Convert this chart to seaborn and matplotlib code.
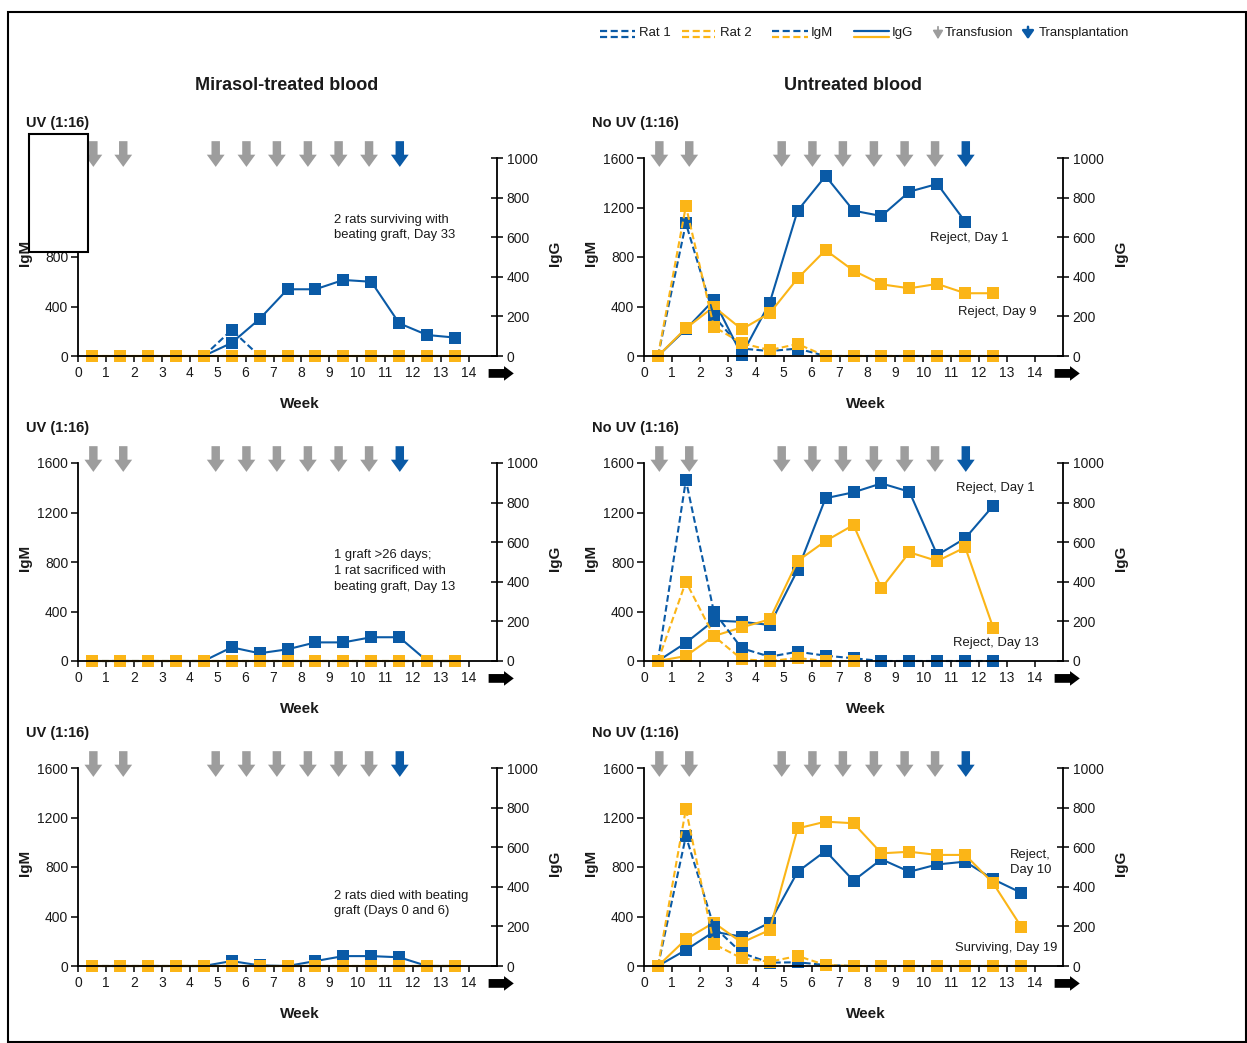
import numpy as np
import pandas as pd
import matplotlib
matplotlib.use("Agg")
import matplotlib.pyplot as plt
import seaborn as sns
from matplotlib.patches import Rectangle
from matplotlib.lines import Line2D

sns.set_theme(style="white")
plt.rcParams["font.family"] = ["Liberation Sans Narrow", "Liberation Sans", "DejaVu Sans"]

# ---------------- data ----------------
WEEKS = [0.5, 1.5, 2.5, 3.5, 4.5, 5.5, 6.5, 7.5, 8.5, 9.5, 10.5, 11.5, 12.5, 13.5]
TRANSFUSION_WEEKS = [0.55, 1.62, 4.93, 6.03, 7.12, 8.23, 9.33, 10.42]
TRANSPLANT_WEEK = 11.52
X_TICKS = list(range(0, 15))
IGM_TICKS = [0, 400, 800, 1200, 1600]
IGG_TICKS = [0, 200, 400, 600, 800, 1000]

N = None
# Mirasol-treated, panel 1
A_IGM_RAT1 = [N, N, N, N, 0, 210, 0]
A_IGM_RAT2 = [0] * 14
A_IGG_RAT1 = [N, N, N, N, 0, 66, 187, 337, 337, 384, 375, 165, 106, 93]
A_IGG_RAT2 = [0] * 14
# Mirasol-treated, panel 2
B_IGM_RAT1 = [0] * 14
B_IGM_RAT2 = [0] * 14
B_IGG_RAT1 = [0, 0, 0, 0, 0, 69, 39, 59, 94, 94, 120, 120, 0, 0]
B_IGG_RAT2 = [0] * 14
# Mirasol-treated, panel 3
C_IGM_RAT1 = [0] * 14
C_IGM_RAT2 = [0] * 14
C_IGG_RAT1 = [0, 0, 0, 0, 0, 25, 3, 0, 25, 50, 50, 44, 0, 0]
C_IGG_RAT2 = [0] * 14
# Untreated, panel 1
D_IGM_RAT1 = [0, 1072, 323, 60, 40, 60, 0, 0, 0, 0, 0, 0]
D_IGM_RAT2 = [0, 1212, 237, 103, 48, 97, 0, 0, 0, 0, 0, 0, 0]
D_IGG_RAT1 = [0, 135, 283, 5, 269, 734, 909, 734, 707, 830, 869, 678]
D_IGG_RAT2 = [0, 140, 249, 135, 216, 392, 535, 431, 362, 342, 364, 317, 317]
# Untreated, panel 2
E_IGM_RAT1 = [0, 1462, 398, 103, 35, 75, 43, 22, 0, 0, 0, 0, 0]
E_IGM_RAT2 = [0, 641, 202, 14, 0, 24, 0, 0]
E_IGG_RAT1 = [0, 92, 204, 198, 182, 460, 822, 852, 897, 855, 535, 620, 784]
E_IGG_RAT2 = [0, 25, 126, 170, 210, 505, 606, 687, 367, 549, 505, 574, 168]
# Untreated, panel 3
F_IGM_RAT1 = [0, 1050, 318, 105, 27, 30, 8, 0, 0, 0, 0, 0, 0, 0]
F_IGM_RAT2 = [0, 1269, 178, 62, 35, 81, 8, 0, 0, 0, 0, 0, 0, 0]
F_IGG_RAT1 = [0, 81, 173, 148, 219, 476, 581, 431, 539, 476, 513, 527, 438, 370]
F_IGG_RAT2 = [0, 135, 219, 118, 182, 695, 729, 721, 569, 577, 561, 561, 418, 199]

BLUE = "#0a5aa6"
ORANGE = "#fbb517"
GRAY = "#9d9d9d"
TXT = "#1a1a1a"

W, H = 1247, 1043
fig = plt.figure(figsize=(W / 100, H / 100), dpi=100)
fig.patch.set_facecolor("white")


def fx(px):
    return px / W


def fy(py):
    return 1 - py / H


def series(ax, vals, color, dashed):
    df = pd.DataFrame({"week": WEEKS[: len(vals)], "value": vals}).dropna()
    ls = (0, (3.2, 1.6)) if dashed else "-"
    sns.lineplot(data=df, x="week", y="value", ax=ax, color=color, linestyle=ls,
                 linewidth=1.5, marker="s", markersize=8.5, markeredgewidth=0,
                 clip_on=False, legend=False, errorbar=None)


def panel(left_px, bottom_px, label, igm1, igm2, igg1, igg2, notes):
    ax = fig.add_axes([fx(left_px), fy(bottom_px), fx(419), 198 / H])
    ax2 = ax.twinx()
    ax.set_zorder(ax2.get_zorder() + 1)
    ax.patch.set_visible(False)

    series(ax2, igg1, BLUE, False)
    series(ax2, igg2, ORANGE, False)
    series(ax, igm1, BLUE, True)
    series(ax, igm2, ORANGE, True)

    ax.set_xlim(0, 15)
    ax.set_ylim(0, 1600)
    ax2.set_ylim(0, 1000)
    ax.set_xticks(X_TICKS)
    ax.set_yticks(IGM_TICKS)
    ax2.set_yticks(IGG_TICKS)
    for s in ["top", "right"]:
        ax.spines[s].set_visible(False)
    for s in ["top", "left", "bottom"]:
        ax2.spines[s].set_visible(False)
    for sp in [ax.spines["left"], ax.spines["bottom"], ax2.spines["right"]]:
        sp.set_color("black")
        sp.set_linewidth(1.3)
    ax.tick_params(axis="x", direction="out", length=4, width=1.1, colors="black",
                   labelcolor=TXT, labelsize=10, pad=3, bottom=True)
    ax.tick_params(axis="y", direction="out", length=5, width=1.1, colors="black",
                   labelcolor=TXT, labelsize=10, pad=2, left=True)
    ax2.tick_params(axis="y", direction="inout", length=8, width=1.1, colors="black",
                    labelcolor=TXT, labelsize=10, pad=3, right=True)

    ax.set_xlabel("Week", fontsize=11, fontweight="bold", color=TXT)
    ax.xaxis.set_label_coords(0.53, -0.205)
    ax.set_ylabel("IgM", fontsize=11, fontweight="bold", color=TXT)
    ax.yaxis.set_label_coords(-0.11, 0.52)
    ax2.set_ylabel("IgG", fontsize=11, fontweight="bold", color=TXT, rotation=90)
    ax2.yaxis.set_label_coords(1.122, 0.52)

    ax.text(-0.125, 1.175, label, transform=ax.transAxes, fontsize=10.5,
            fontweight="bold", color=TXT, ha="left", va="center")

    # transfusion / transplantation arrows
    for wk in TRANSFUSION_WEEKS:
        ax.annotate("", xy=(wk, 0.955), xytext=(wk, 1.085),
                    xycoords=("data", "axes fraction"), textcoords=("data", "axes fraction"),
                    arrowprops=dict(arrowstyle="simple,head_length=0.55,head_width=0.8,tail_width=0.38",
                                    mutation_scale=16, color=GRAY, shrinkA=0, shrinkB=0, lw=0),
                    annotation_clip=False)
    ax.annotate("", xy=(TRANSPLANT_WEEK, 0.955), xytext=(TRANSPLANT_WEEK, 1.085),
                xycoords=("data", "axes fraction"), textcoords=("data", "axes fraction"),
                arrowprops=dict(arrowstyle="simple,head_length=0.55,head_width=0.8,tail_width=0.38",
                                mutation_scale=16, color=BLUE, shrinkA=0, shrinkB=0, lw=0),
                annotation_clip=False)
    # black arrow after the week axis
    ax.annotate("", xy=(1.04, -0.088), xytext=(0.98, -0.088), xycoords="axes fraction",
                arrowprops=dict(arrowstyle="simple,head_length=0.5,head_width=0.75,tail_width=0.45",
                                mutation_scale=14, color="black", shrinkA=0, shrinkB=0, lw=0),
                annotation_clip=False)

    for (tx, ty, s) in notes:
        ax.text(tx, ty, s, transform=ax.transAxes, fontsize=9.4, color=TXT,
                ha="left", va="center", linespacing=1.4)
    return ax


LX, RX = 78, 644
ROWS = [356, 661, 966]

panel(LX, ROWS[0], "UV (1:16)", A_IGM_RAT1, A_IGM_RAT2, A_IGG_RAT1, A_IGG_RAT2,
      [(0.61, 0.65, "2 rats surviving with\nbeating graft, Day 33")])
panel(LX, ROWS[1], "UV (1:16)", B_IGM_RAT1, B_IGM_RAT2, B_IGG_RAT1, B_IGG_RAT2,
      [(0.61, 0.455, "1 graft >26 days;\n1 rat sacrificed with\nbeating graft, Day 13")])
panel(LX, ROWS[2], "UV (1:16)", C_IGM_RAT1, C_IGM_RAT2, C_IGG_RAT1, C_IGG_RAT2,
      [(0.61, 0.315, "2 rats died with beating\ngraft (Days 0 and 6)")])
panel(RX, ROWS[0], "No UV (1:16)", D_IGM_RAT1, D_IGM_RAT2, D_IGG_RAT1, D_IGG_RAT2,
      [(0.683, 0.596, "Reject, Day 1"), (0.749, 0.224, "Reject, Day 9")])
panel(RX, ROWS[1], "No UV (1:16)", E_IGM_RAT1, E_IGM_RAT2, E_IGG_RAT1, E_IGG_RAT2,
      [(0.745, 0.875, "Reject, Day 1"), (0.737, 0.089, "Reject, Day 13")])
panel(RX, ROWS[2], "No UV (1:16)", F_IGM_RAT1, F_IGM_RAT2, F_IGG_RAT1, F_IGG_RAT2,
      [(0.873, 0.522, "Reject,\nDay 10"), (0.742, 0.092, "Surviving, Day 19")])

# column titles
fig.text(fx(287), fy(86), "Mirasol-treated blood", fontsize=13, fontweight="bold",
         color=TXT, ha="center", va="center")
fig.text(fx(853), fy(86), "Untreated blood", fontsize=13, fontweight="bold",
         color=TXT, ha="center", va="center")

# legend (drawn by hand)
def leg_lines(x0, x1, c_top, c_bot, dash_top, dash_bot):
    for yy, c, d in [(30.8, c_top, dash_top), (36.5, c_bot, dash_bot)]:
        fig.add_artist(Line2D([fx(x0), fx(x1)], [fy(yy), fy(yy)], color=c, lw=1.6,
                              linestyle=(0, (3.2, 1.6)) if d else "-",
                              transform=fig.transFigure))

leg_lines(600, 635, BLUE, BLUE, True, True)
fig.text(fx(639), fy(33), "Rat 1", fontsize=9.5, color=TXT, ha="left", va="center")
leg_lines(682, 715, ORANGE, ORANGE, True, True)
fig.text(fx(720), fy(33), "Rat 2", fontsize=9.5, color=TXT, ha="left", va="center")
leg_lines(772, 808, BLUE, ORANGE, True, True)
fig.text(fx(811), fy(33), "IgM", fontsize=9.5, color=TXT, ha="left", va="center")
leg_lines(854, 889, BLUE, ORANGE, False, False)
fig.text(fx(892), fy(33), "IgG", fontsize=9.5, color=TXT, ha="left", va="center")
fig.add_artist(matplotlib.patches.FancyArrowPatch((fx(938), fy(24)), (fx(938), fy(42)),
               arrowstyle="-|>,head_length=0.5,head_width=0.3", mutation_scale=10,
               color=GRAY, lw=1.3, transform=fig.transFigure))
fig.text(fx(945), fy(33), "Transfusion", fontsize=9.5, color=TXT, ha="left", va="center")
fig.add_artist(matplotlib.patches.FancyArrowPatch((fx(1028), fy(24)), (fx(1028), fy(42)),
               arrowstyle="-|>,head_length=0.5,head_width=0.35", mutation_scale=10,
               color=BLUE, lw=1.8, transform=fig.transFigure))
fig.text(fx(1039), fy(33), "Transplantation", fontsize=9.5, color=TXT, ha="left", va="center")

# white box covering part of the first panel, as in the source
fig.add_artist(Rectangle((fx(29), fy(252)), fx(59), 118 / H, facecolor="white",
                         edgecolor="black", lw=1.5, transform=fig.transFigure, zorder=20))
# outer frame
fig.add_artist(Rectangle((fx(8), fy(1042)), fx(1238), 1030 / H, facecolor="none",
                         edgecolor="black", lw=1.5, transform=fig.transFigure, zorder=20))

fig.savefig("out.png", dpi=100)
